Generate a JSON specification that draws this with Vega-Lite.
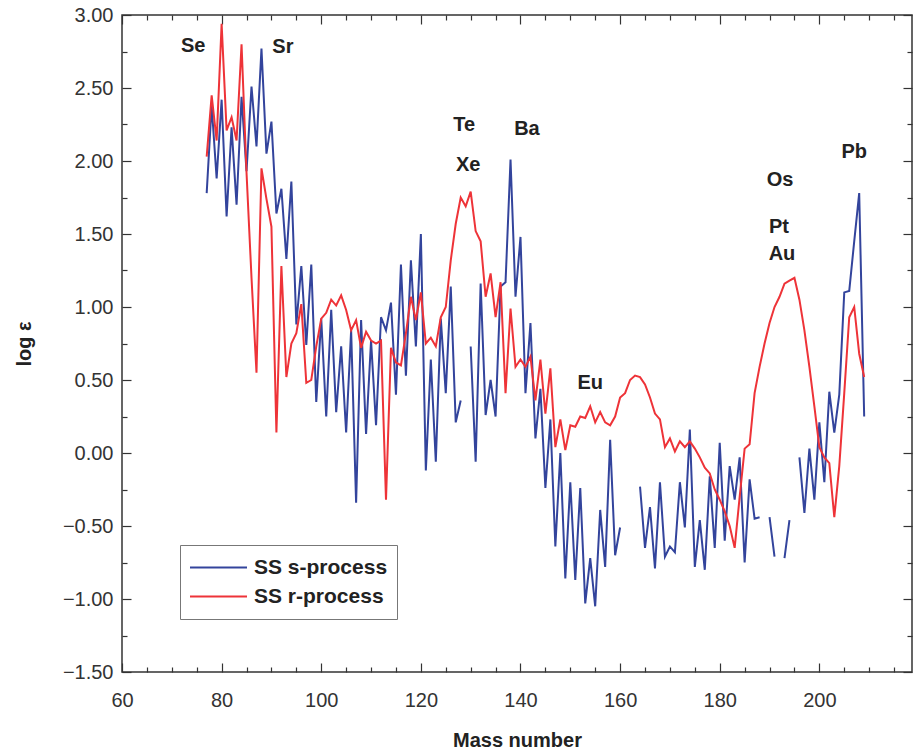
{
  "$schema": "https://vega.github.io/schema/vega-lite/v6.json",
  "width": 790,
  "height": 657,
  "autosize": {"type": "none"},
  "padding": {"left": 122, "top": 15, "right": 4, "bottom": 82},
  "background": "white",
  "config": {
    "view": {"stroke": "#333", "strokeWidth": 1.5},
    "font": "Liberation Sans",
    "axis": {"grid": false, "domain": false, "labelFlush": false, "tickColor": "#333", "tickWidth": 1.2, "labelFont": "Liberation Sans", "labelColor": "#333", "labelFontSize": 20, "titleFont": "Liberation Sans", "titleColor": "#222", "titleFontWeight": "bold", "titleFontSize": 20}
  },
  "datasets": {
    "iso": [
      {"A":77,"s":1.78,"r":2.03},{"A":78,"s":2.38,"r":2.45},{"A":79,"s":1.88,"r":2.14},{"A":80,"s":2.42,"r":2.94},
      {"A":81,"s":1.62,"r":2.21},{"A":82,"s":2.23,"r":2.30},{"A":83,"s":1.70,"r":2.14},{"A":84,"s":2.44,"r":2.80},
      {"A":85,"s":1.93,"r":1.92},{"A":86,"s":2.51,"r":1.20},{"A":87,"s":2.10,"r":0.55},{"A":88,"s":2.77,"r":1.95},
      {"A":89,"s":2.05,"r":1.74},{"A":90,"s":2.27,"r":1.55},{"A":91,"s":1.64,"r":0.14},{"A":92,"s":1.81,"r":1.28},
      {"A":93,"s":1.33,"r":0.52},{"A":94,"s":1.86,"r":0.75},{"A":95,"s":0.88,"r":0.82},{"A":96,"s":1.28,"r":1.02},
      {"A":97,"s":0.74,"r":0.48},{"A":98,"s":1.29,"r":0.50},{"A":99,"s":0.35,"r":0.73},{"A":100,"s":0.92,"r":0.92},
      {"A":101,"s":0.25,"r":0.96},{"A":102,"s":0.98,"r":1.05},{"A":103,"s":0.28,"r":1.01},{"A":104,"s":0.73,"r":1.08},
      {"A":105,"s":0.14,"r":0.98},{"A":106,"s":0.84,"r":0.84},{"A":107,"s":-0.34,"r":0.91},{"A":108,"s":0.91,"r":0.72},
      {"A":109,"s":0.13,"r":0.83},{"A":110,"s":0.77,"r":0.77},{"A":111,"s":0.19,"r":0.75},{"A":112,"s":0.93,"r":0.77},
      {"A":113,"s":0.84,"r":-0.32},{"A":114,"s":1.03,"r":0.72},{"A":115,"s":0.40,"r":0.62},{"A":116,"s":1.29,"r":0.60},
      {"A":117,"s":0.53,"r":0.82},{"A":118,"s":1.32,"r":1.07},{"A":119,"s":0.73,"r":0.91},{"A":120,"s":1.50,"r":1.10},
      {"A":121,"s":-0.12,"r":0.75},{"A":122,"s":0.64,"r":0.79},{"A":123,"s":-0.06,"r":0.73},{"A":124,"s":0.92,"r":0.93},
      {"A":125,"s":0.41,"r":1.00},{"A":126,"s":1.14,"r":1.32},{"A":127,"s":0.21,"r":1.57},{"A":128,"s":0.36,"r":1.75},
      {"A":129,"s":null,"r":1.69},{"A":130,"s":0.73,"r":1.79},{"A":131,"s":-0.06,"r":1.52},{"A":132,"s":1.16,"r":1.45},
      {"A":133,"s":0.26,"r":1.07},{"A":134,"s":0.50,"r":1.23},{"A":135,"s":0.25,"r":0.93},{"A":136,"s":1.14,"r":1.17},
      {"A":137,"s":1.17,"r":0.41},{"A":138,"s":2.01,"r":0.99},{"A":139,"s":1.07,"r":0.59},{"A":140,"s":1.48,"r":0.64},
      {"A":141,"s":0.41,"r":0.59},{"A":142,"s":0.89,"r":0.66},{"A":143,"s":0.10,"r":0.36},{"A":144,"s":0.44,"r":0.64},
      {"A":145,"s":-0.24,"r":0.27},{"A":146,"s":0.23,"r":0.58},{"A":147,"s":-0.64,"r":0.04},{"A":148,"s":0.00,"r":0.23},
      {"A":149,"s":-0.86,"r":0.02},{"A":150,"s":-0.20,"r":0.19},{"A":151,"s":-0.87,"r":0.18},{"A":152,"s":-0.24,"r":0.25},
      {"A":153,"s":-1.03,"r":0.24},{"A":154,"s":-0.72,"r":0.32},{"A":155,"s":-1.05,"r":0.21},{"A":156,"s":-0.39,"r":0.28},
      {"A":157,"s":-0.78,"r":0.21},{"A":158,"s":0.09,"r":0.19},{"A":159,"s":-0.70,"r":0.25},{"A":160,"s":-0.51,"r":0.38},
      {"A":161,"s":null,"r":0.41},{"A":162,"s":null,"r":0.50},{"A":163,"s":null,"r":0.53},{"A":164,"s":-0.23,"r":0.52},
      {"A":165,"s":-0.65,"r":0.47},{"A":166,"s":-0.37,"r":0.38},{"A":167,"s":-0.79,"r":0.27},{"A":168,"s":-0.20,"r":0.23},
      {"A":169,"s":-0.71,"r":0.04},{"A":170,"s":-0.64,"r":0.10},{"A":171,"s":-0.68,"r":0.01},{"A":172,"s":-0.20,"r":0.08},
      {"A":173,"s":-0.51,"r":0.04},{"A":174,"s":0.16,"r":0.08},{"A":175,"s":-0.78,"r":0.03},{"A":176,"s":-0.46,"r":-0.03},
      {"A":177,"s":-0.80,"r":-0.10},{"A":178,"s":-0.16,"r":-0.14},{"A":179,"s":-0.65,"r":-0.25},{"A":180,"s":0.07,"r":-0.32},
      {"A":181,"s":-0.60,"r":-0.40},{"A":182,"s":-0.09,"r":-0.50},{"A":183,"s":-0.32,"r":-0.65},{"A":184,"s":-0.03,"r":-0.30},
      {"A":185,"s":-0.75,"r":0.03},{"A":186,"s":-0.18,"r":0.06},{"A":187,"s":-0.45,"r":0.41},{"A":188,"s":-0.44,"r":0.59},
      {"A":189,"s":null,"r":0.75},{"A":190,"s":-0.44,"r":0.89},{"A":191,"s":-0.71,"r":1.00},{"A":192,"s":null,"r":1.07},
      {"A":193,"s":-0.72,"r":1.16},{"A":194,"s":-0.46,"r":1.18},{"A":195,"s":null,"r":1.20},{"A":196,"s":-0.03,"r":1.05},
      {"A":197,"s":-0.41,"r":0.84},{"A":198,"s":0.03,"r":0.59},{"A":199,"s":-0.32,"r":0.32},{"A":200,"s":0.21,"r":0.04},
      {"A":201,"s":-0.20,"r":-0.03},{"A":202,"s":0.42,"r":-0.07},{"A":203,"s":0.14,"r":-0.44},{"A":204,"s":0.40,"r":-0.09},
      {"A":205,"s":1.10,"r":0.41},{"A":206,"s":1.11,"r":0.93},{"A":207,"s":1.45,"r":1.00},{"A":208,"s":1.78,"r":0.68},
      {"A":209,"s":0.25,"r":0.52}
    ],
    "labels1": [
      {"label":"Se","A":74.3,"v":2.79},{"label":"Sr","A":92.3,"v":2.78},{"label":"Te","A":128.7,"v":2.25},
      {"label":"Xe","A":129.5,"v":1.97},{"label":"Ba","A":141.3,"v":2.22},{"label":"Eu","A":154,"v":0.48}
    ],
    "labels2": [
      {"label":"Os","A":192.1,"v":1.87},{"label":"Pt","A":191.9,"v":1.55},{"label":"Au","A":192.5,"v":1.36},
      {"label":"Pb","A":207,"v":2.06}
    ]
  },
  "layer": [
    {
      "data": {"name": "iso"},
      "mark": {"type": "line", "strokeWidth": 2, "invalid": "break-paths-show-domains"},
      "encoding": {
        "x": {"field": "A", "type": "quantitative", "scale": {"domain": [60, 218.6], "nice": false, "zero": false},
              "axis": {"orient": "bottom", "values": [60,80,100,120,140,160,180,200], "tickSize": -9, "labelPadding": 27, "title": "Mass number", "titlePadding": 20}},
        "y": {"field": "s", "type": "quantitative", "scale": {"domain": [-1.5, 3], "nice": false, "zero": false},
              "axis": {"orient": "left", "values": [-1.5,-1,-0.5,0,0.5,1,1.5,2,2.5,3], "format": ".2f", "tickSize": -9, "labelPadding": 18, "title": "log ε", "titlePadding": 28}},
        "color": {"datum": "s", "type": "nominal",
                  "scale": {"domain": ["s", "r"], "range": ["#33449c", "#ee3338"]},
                  "legend": {"orient": "none", "legendX": 58, "legendY": 530, "title": null,
                             "labelExpr": "datum.label == 's' ? 'SS s-process' : 'SS r-process'",
                             "symbolType": "stroke", "symbolSize": 3249, "symbolStrokeWidth": 2,
                             "clipHeight": 27, "padding": 9, "labelOffset": 6,
                             "labelFont": "Liberation Sans", "labelFontSize": 21, "labelFontWeight": "bold", "labelColor": "#222",
                             "strokeColor": "#777", "fillColor": "white"}}
      }
    },
    {
      "data": {"name": "iso"},
      "mark": {"type": "line", "strokeWidth": 2, "invalid": "break-paths-show-domains"},
      "encoding": {
        "x": {"field": "A", "type": "quantitative",
              "axis": {"orient": "bottom", "values": [65,70,75,85,90,95,105,110,115,125,130,135,145,150,155,165,170,175,185,190,195,205,210,215], "tickSize": -5, "labels": false, "title": null}},
        "y": {"field": "r", "type": "quantitative",
              "axis": {"orient": "left", "values": [-1.25,-0.75,-0.25,0.25,0.75,1.25,1.75,2.25,2.75], "tickSize": -5, "labels": false, "title": null}},
        "color": {"datum": "r", "type": "nominal"}
      }
    },
    {
      "data": {"name": "labels1"},
      "mark": {"type": "text", "font": "Liberation Sans", "fontSize": 20, "fontWeight": "bold", "color": "#222"},
      "encoding": {
        "x": {"field": "A", "type": "quantitative",
              "axis": {"orient": "top", "values": [60,80,100,120,140,160,180,200], "tickSize": -9, "labels": false, "title": null}},
        "y": {"field": "v", "type": "quantitative",
              "axis": {"orient": "right", "values": [-1.5,-1,-0.5,0,0.5,1,1.5,2,2.5,3], "tickSize": -9, "labels": false, "title": null}},
        "text": {"field": "label"}
      }
    },
    {
      "data": {"name": "labels2"},
      "mark": {"type": "text", "font": "Liberation Sans", "fontSize": 20, "fontWeight": "bold", "color": "#222"},
      "encoding": {
        "x": {"field": "A", "type": "quantitative",
              "axis": {"orient": "top", "values": [65,70,75,85,90,95,105,110,115,125,130,135,145,150,155,165,170,175,185,190,195,205,210,215], "tickSize": -5, "labels": false, "title": null}},
        "y": {"field": "v", "type": "quantitative",
              "axis": {"orient": "right", "values": [-1.25,-0.75,-0.25,0.25,0.75,1.25,1.75,2.25,2.75], "tickSize": -5, "labels": false, "title": null}},
        "text": {"field": "label"}
      }
    }
  ],
  "resolve": {"scale": {"x": "shared", "y": "shared", "color": "shared"}, "axis": {"x": "independent", "y": "independent"}}
}
